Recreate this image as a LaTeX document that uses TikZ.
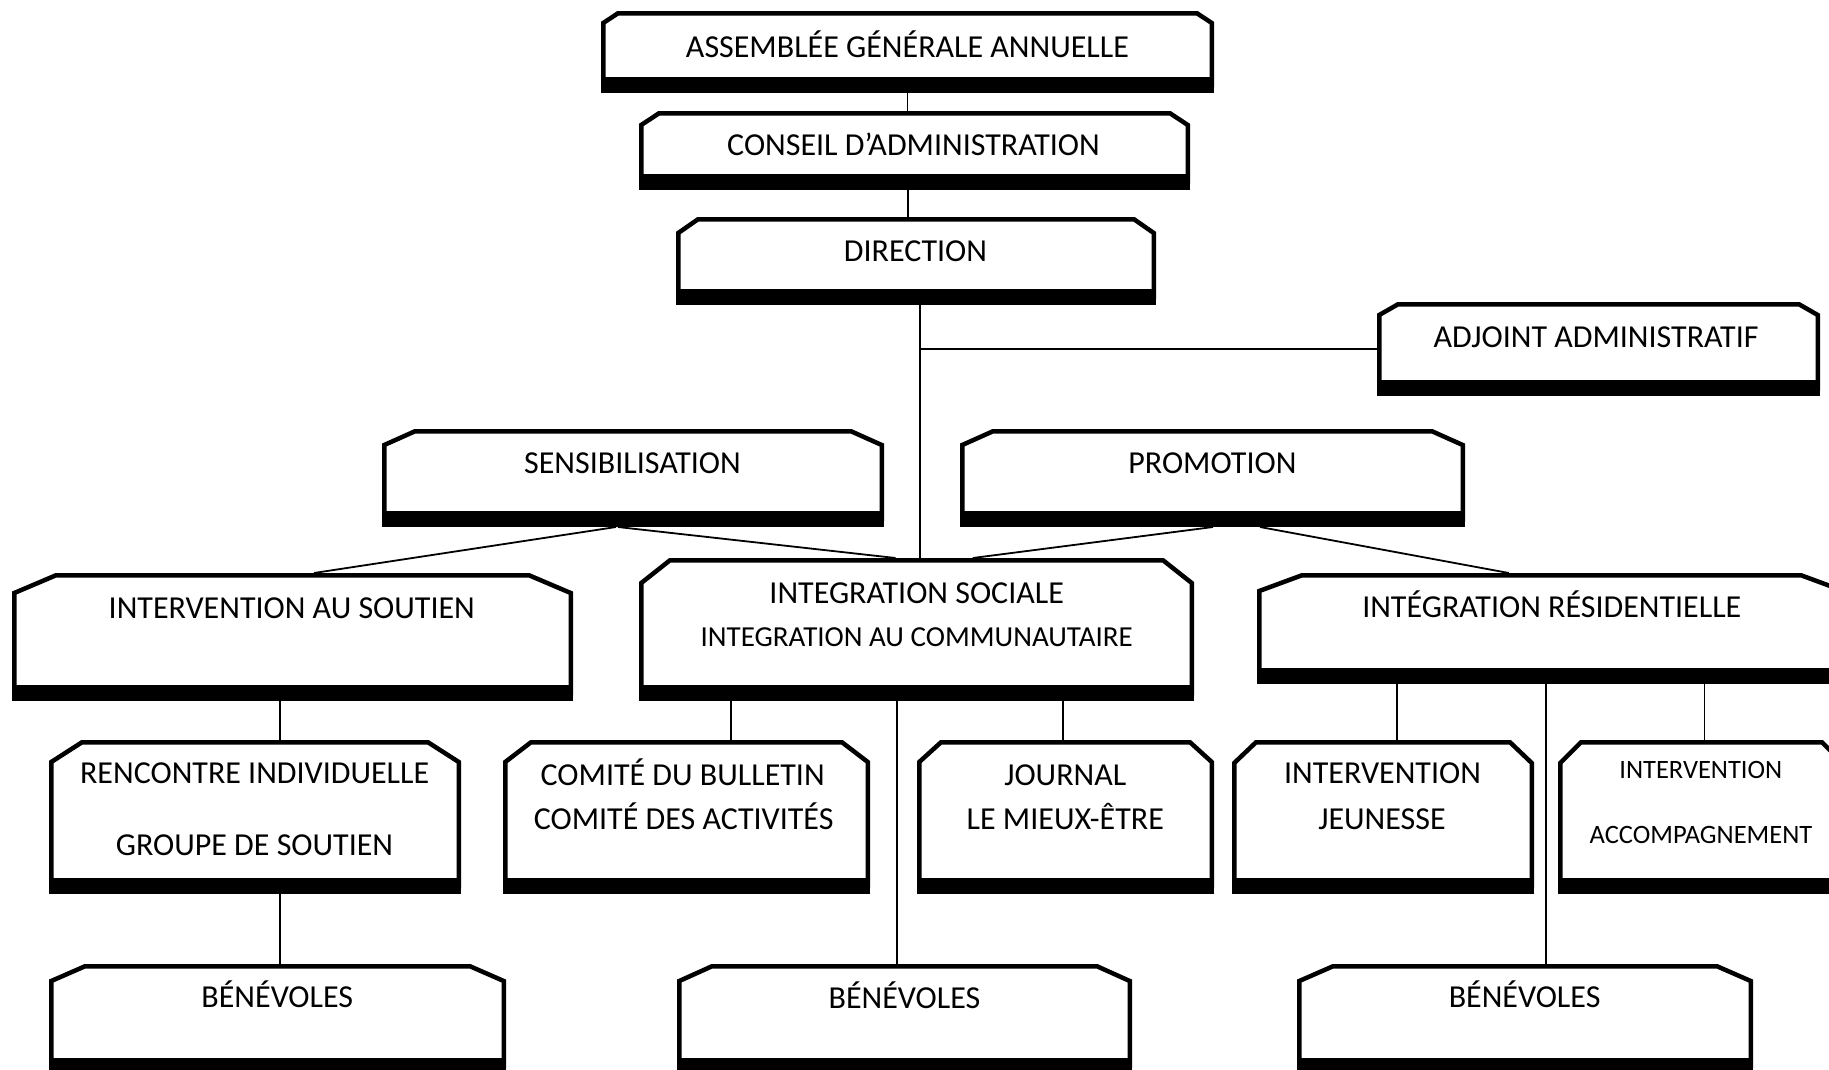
\documentclass[tikz,border=0pt]{standalone}
\usepackage{fontspec}
\setmainfont{Carlito}
\usetikzlibrary{calc}
\tikzset{
  boxnode/.style={rectangle, draw=none, inner sep=0pt, outer sep=0pt},
  boxline/.style={line width=4.5pt, line join=miter, fill=white},
  conn/.style={line width=1.8pt},
  lab/.style={anchor=base, inner sep=0pt, font=\fontsize{32}{38}\selectfont},
  labs/.style={anchor=base, inner sep=0pt, font=\fontsize{29}{34}\selectfont},
  labxs/.style={anchor=base, inner sep=0pt, font=\fontsize{26.5}{32}\selectfont},
}
% name, L, T, R, B, chamfer x, chamfer y
\newcommand{\orgbox}[7]{%
  \node[boxnode, minimum width={#4pt-#2pt}, minimum height={#5pt-#3pt}] (#1) at ({(#2+#4)/2},{(#3+#5)/2}) {};
  \draw[boxline] ($(#1.north west)+(2.25,#7)$) -- ($(#1.north west)+(#6,2.25)$)
    -- ($(#1.north east)+(-#6,2.25)$) -- ($(#1.north east)+(-2.25,#7)$)
    -- ($(#1.south east)+(-2.25,-8)$) -- ($(#1.south west)+(2.25,-8)$) -- cycle;
  \fill ($(#1.south west)+(0,-16)$) rectangle (#1.south east);
}
\begin{document}
\begin{tikzpicture}[x=1pt,y=-1pt]
\useasboundingbox (0,0) rectangle (1829,1069);
\clip (0,0) rectangle (1829,1069);

% boxes
\orgbox{aga}{601}{11}{1214}{93}{17}{12}
\orgbox{ca}{639}{111}{1190}{190}{20}{14}
\orgbox{dir}{676}{217}{1156}{305}{22}{16}
\orgbox{adj}{1377}{302}{1820}{396}{21}{13}
\orgbox{sens}{382}{429}{884}{527}{33}{16}
\orgbox{promo}{960}{429}{1465}{527}{33}{16}
\orgbox{ias}{12}{573}{573}{701}{44}{20}
\orgbox{is}{639}{558}{1194}{701}{31}{25}
\orgbox{ir}{1257}{573}{1846}{684}{45}{18}
\orgbox{ri}{49}{740}{461}{894}{33}{22}
\orgbox{com}{503}{740}{870}{894}{28}{22}
\orgbox{jou}{917}{740}{1214}{894}{24}{22}
\orgbox{ij}{1232}{740}{1534}{894}{24}{23}
\orgbox{ia}{1558}{740}{1845}{894}{23}{23}
\orgbox{ben1}{49}{964}{506}{1074}{36}{17}
\orgbox{ben2}{677}{964}{1132}{1074}{35}{17}
\orgbox{ben3}{1297}{964}{1753}{1074}{36}{17}

% connectors
\draw[conn] (aga.south) -- ($(ca.north)+(-7,0)$);
\draw[conn] ($(ca.south)+(-6.5,0)$) -- ($(dir.north)+(-8,0)$);
\coordinate (dj) at ($(dir.south)+(4,0)$);
\draw[conn] (dj) -- ($(is.north)+(3.5,0)$);
\draw[conn] (dj |- adj.west) -- (adj.west);
\draw[conn] ($(sens.south)+(-17,0)$) -- ($(ias.north)+(21.5,0)$);
\draw[conn] ($(sens.south)+(-15,0)$) -- ($(is.north)+(-21,0)$);
\draw[conn] ($(promo.south)+(0.5,0)$) -- ($(is.north)+(56.3,0)$);
\draw[conn] ($(promo.south)+(47.5,0)$) -- ($(ir.north)+(-42.7,0)$);
\draw[conn] ($(ias.south)+(-12.5,0)$) -- ($(ri.north)+(25,0)$);
\draw[conn] ($(ri.south)+(25,0)$) -- ($(ben1.north)+(2.5,0)$);
\draw[conn] ($(is.south)+(-185.5,0)$) -- ($(com.north)+(44.5,0)$);
\draw[conn] ($(is.south)+(146.8,0)$) -- ($(jou.north)+(-2.2,0)$);
\draw[conn] ($(is.south)+(-19.5,0)$) -- ($(ben2.north)+(-7.5,0)$);
\draw[conn] ($(ir.south)+(-154.2,0)$) -- ($(ij.north)+(14.3,0)$);
\draw[conn] ($(ir.south)+(-5.2,0)$) -- ($(ben3.north)+(21.3,0)$);
\draw[conn] ($(ir.south)+(152.9,0)$) -- ($(ia.north)+(2.9,0)$);

% texts
\node[lab] (aga-t) at (907.5,57) {ASSEMBLÉE GÉNÉRALE ANNUELLE};
\node[lab] (ca-t) at (913.5,155) {CONSEIL D’ADMINISTRATION};
\node[lab] (dir-t) at (915.5,261) {DIRECTION};
\node[lab] (adj-t) at (1596,347) {ADJOINT ADMINISTRATIF};
\node[lab] (sens-t) at (632.5,473) {SENSIBILISATION};
\node[lab] (promo-t) at (1212.4,473) {PROMOTION};
\node[lab] (ias-t) at (291.8,618) {INTERVENTION AU SOUTIEN};
\node[lab] (is-t1) at (916.7,603) {INTEGRATION SOCIALE};
\node[labs] (is-t2) at (916.7,646) {INTEGRATION AU COMMUNAUTAIRE};
\node[lab] (ir-t) at (1551.8,617.5) {INTÉGRATION RÉSIDENTIELLE};
\node[lab] (ri-t1) at (254.7,783) {RENCONTRE INDIVIDUELLE};
\node[lab] (ri-t2) at (254.5,855) {GROUPE DE SOUTIEN};
\node[lab] (com-t1) at (682.7,785) {COMITÉ DU BULLETIN};
\node[lab] (com-t2) at (683.7,829) {COMITÉ DES ACTIVITÉS};
\node[lab] (jou-t1) at (1065.3,785) {JOURNAL};
\node[lab] (jou-t2) at (1065.3,829) {LE MIEUX-ÊTRE};
\node[lab] (ij-t1) at (1382.5,783) {INTERVENTION};
\node[lab] (ij-t2) at (1382,829) {JEUNESSE};
\node[labxs] (ia-t1) at (1700.8,778.3) {INTERVENTION};
\node[labxs] (ia-t2) at (1701,843.3) {ACCOMPAGNEMENT};
\node[lab] (ben1-t) at (277.3,1007) {BÉNÉVOLES};
\node[lab] (ben2-t) at (904.5,1008) {BÉNÉVOLES};
\node[lab] (ben3-t) at (1524.6,1007) {BÉNÉVOLES};
\end{tikzpicture}
\end{document}
